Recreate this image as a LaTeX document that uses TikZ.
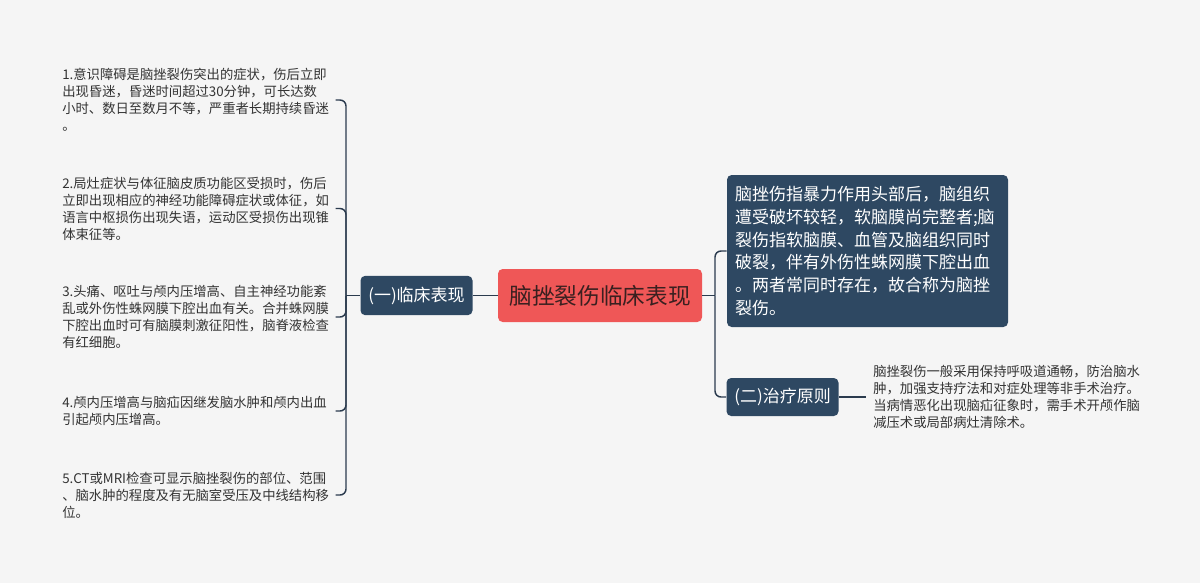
\documentclass[tikz,border=0pt]{standalone}
\usepackage{fontspec}
\newfontfamily\cjk{Noto Sans CJK SC}
\definecolor{bg}{HTML}{F5F5F5}
\definecolor{rootred}{HTML}{EF5757}
\definecolor{navy}{HTML}{2E4862}
\definecolor{linec}{HTML}{2B3B4E}
\definecolor{txt}{HTML}{333333}
\definecolor{roottxt}{HTML}{3A2020}
\begin{document}
\begin{tikzpicture}[x=0.75pt,y=-0.75pt,
  rootbox/.style={fill=rootred, rounded corners=3.5pt, text=roottxt,
    font=\cjk\fontsize{17}{20}\selectfont, minimum width=153pt, minimum height=39.75pt, inner sep=0pt},
  branchbox/.style={fill=navy, rounded corners=3.5pt, text=white,
    font=\cjk\fontsize{12.75}{15}\selectfont, minimum width=84pt, minimum height=29.5pt, inner sep=0pt},
  descbox/.style={fill=navy, rounded corners=3.5pt, text=white,
    font=\cjk\fontsize{12.75}{17}\selectfont, text width=198.75pt, align=left,
    minimum height=114pt, inner xsep=6pt, inner ysep=0pt},
  leaf/.style={text=txt, font=\cjk\fontsize{10}{12.75}\selectfont, text width=201pt,
    align=left, inner xsep=3.75pt, inner ysep=0pt, anchor=west},
  conn/.style={draw=linec, line width=1.1pt, rounded corners=4.5pt}
]
\fill[bg] (0,0) rectangle (1200,583);
\useasboundingbox (0,0) rectangle (1200,583);

\node[rootbox] (root) at (600,295.5) {脑挫裂伤临床表现};
\node[branchbox] (b1) at (416.5,295.5) {(一)临床表现};
\node[descbox] (d1) at (867.5,251) {脑挫伤指暴力作用头部后，脑组织\\遭受破坏较轻，软脑膜尚完整者;脑\\裂伤指软脑膜、血管及脑组织同时\\破裂，伴有外伤性蛛网膜下腔出血\\。两者常同时存在，故合称为脑挫\\裂伤。};
\node[branchbox, minimum height=28.5pt] (b2) at (782.5,397) {(二)治疗原则};

\node[leaf] (l1) at (57,100) {1.意识障碍是脑挫裂伤突出的症状，伤后立即\\出现昏迷，昏迷时间超过30分钟，可长达数\\小时、数日至数月不等，严重者长期持续昏迷\\。};
\node[leaf] (l2) at (57,208.5) {2.局灶症状与体征脑皮质功能区受损时，伤后\\立即出现相应的神经功能障碍症状或体征，如\\语言中枢损伤出现失语，运动区受损伤出现锥\\体束征等。};
\node[leaf] (l3) at (57,317) {3.头痛、呕吐与颅内压增高、自主神经功能紊\\乱或外伤性蛛网膜下腔出血有关。合并蛛网膜\\下腔出血时可有脑膜刺激征阳性，脑脊液检查\\有红细胞。};
\node[leaf] (l4) at (57,411) {4.颅内压增高与脑疝因继发脑水肿和颅内出血\\引起颅内压增高。};
\node[leaf] (l5) at (57,495) {5.CT或MRI检查可显示脑挫裂伤的部位、范围\\、脑水肿的程度及有无脑室受压及中线结构移\\位。};

\node[leaf, inner xsep=5.25pt] (r1) at (866,397) {脑挫裂伤一般采用保持呼吸道通畅，防治脑水\\肿，加强支持疗法和对症处理等非手术治疗。\\当病情恶化出现脑疝征象时，需手术开颅作脑\\减压术或局部病灶清除术。};

\coordinate (jl) at (346,295.5);
\coordinate (jr) at (715,295.5);

\draw[conn] (root.west) -- (b1.east);
\draw[conn] (b1.west) -- (jl);
\foreach \n in {l1,l2,l3,l4,l5} { \draw[conn] (jl) |- (\n.east); }

\draw[conn] (root.east) -- (jr);
\draw[conn] (jr) |- (d1.west);
\draw[conn] (jr) |- (b2.west);
\draw[conn] (b2.east) -- (r1.west);
\end{tikzpicture}
\end{document}
